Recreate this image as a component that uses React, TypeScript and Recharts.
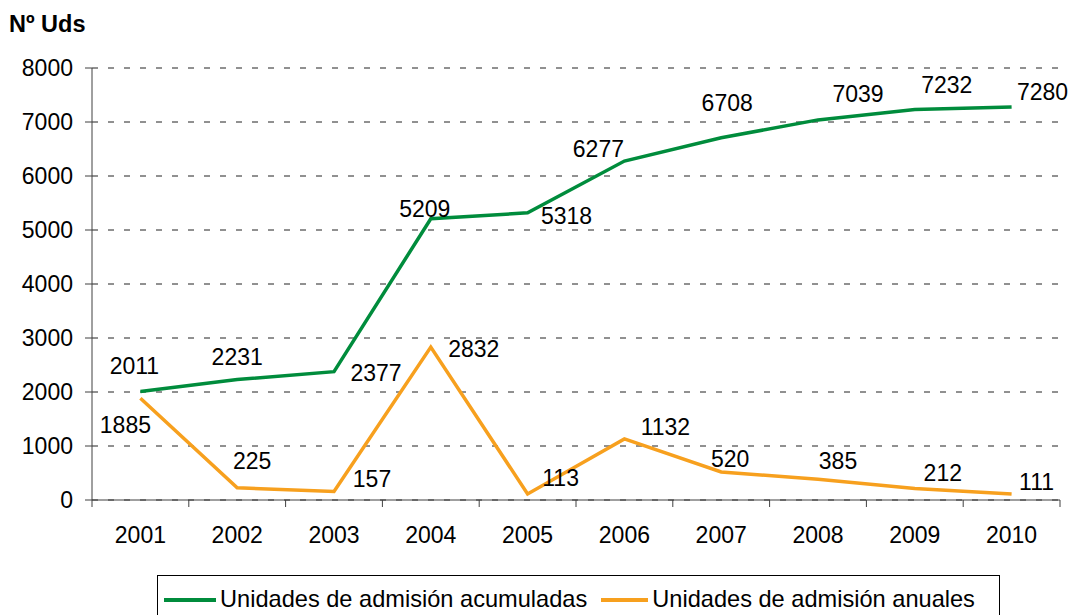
import React from 'react';
import { LineChart, Line, XAxis, YAxis, CartesianGrid } from 'recharts';

const years = ['2001', '2002', '2003', '2004', '2005', '2006', '2007', '2008', '2009', '2010'];
const acumuladas = [2011, 2231, 2377, 5209, 5318, 6277, 6708, 7039, 7232, 7280];
const anuales = [1885, 225, 157, 2832, 113, 1132, 520, 385, 212, 111];
const yTicks = [0, 1000, 2000, 3000, 4000, 5000, 6000, 7000, 8000];
const xBoundaryTicks = [0.5, 1.5, 2.5, 3.5, 4.5, 5.5, 6.5, 7.5, 8.5, 9.5, 10.5];

const seriesNames = ['Unidades de admisión acumuladas', 'Unidades de admisión anuales'];

// label placement offsets (label centre relative to point)
const acumOffsets: [number, number][] = [
  [-6, -25], [0, -23], [42, 1], [-6, -10], [39, 3], [-26, -12], [6, -35], [40, -26], [32, -24], [31, -15],
];
const anualOffsets: [number, number][] = [
  [-15, 27], [15, -27], [38, -13], [43, 2], [33, -16], [41, -12], [9, -13], [20, -18], [28, -16], [25, -12],
];

const data = years.map((y, i) => ({ idx: i + 1, year: y, acum: acumuladas[i], anual: anuales[i] }));

const FONT = '"Liberation Sans", Arial, sans-serif';
const GREEN = '#008C3C';
const ORANGE = '#F7A01E';
const FS = 23;

const CHART_W = 1070;
const CHART_H = 615;
const MARGIN = { top: 68, right: 10, bottom: 75, left: 0 };
const Y_W = 92;
const HALF_BAND = (CHART_W - MARGIN.left - MARGIN.right - Y_W) / years.length / 2;

const makeLabel = (offsets: [number, number][]) => (props: any) => {
  const { x, y, index, value } = props;
  const [dx, dy] = offsets[index] || [0, 0];
  return (
    <text x={x + dx} y={y + dy} textAnchor="middle" dominantBaseline="central" fontSize={FS} fontFamily={FONT} fill="#000">
      {value}
    </text>
  );
};

const YearTick = (props: any) => {
  const { x, y, index } = props;
  if (index >= years.length) return null;
  return (
    <text x={x + HALF_BAND} y={y} textAnchor="middle" dominantBaseline="central" fontSize={FS} fontFamily={FONT} fill="#000">
      {years[index]}
    </text>
  );
};

export default function App() {
  return (
    <div style={{ position: 'absolute', left: 0, top: 0, width: CHART_W, height: CHART_H, overflow: 'hidden', background: '#fff', fontFamily: FONT }}>
      <div style={{ position: 'absolute', left: 9, top: 9, fontSize: 23.5, fontWeight: 'bold', color: '#000', lineHeight: '30px' }}>
        Nº Uds
      </div>
      <LineChart width={CHART_W} height={CHART_H} data={data} margin={MARGIN}>
        <CartesianGrid vertical={false} stroke="#222" strokeDasharray="6 10" />
        <XAxis
          type="number"
          dataKey="idx"
          domain={[0.5, 10.5]}
          ticks={xBoundaryTicks}
          tick={<YearTick />}
          tickSize={7}
          tickMargin={28}
          height={40}
          stroke="#404040"
          interval={0}
          allowDataOverflow
        />
        <YAxis
          domain={[0, 8000]}
          ticks={yTicks}
          width={Y_W}
          tickSize={7}
          tickMargin={12}
          stroke="#404040"
          tick={{ fontSize: FS, fill: '#000', fontFamily: FONT }}
          interval={0}
        />
        <Line
          dataKey="acum"
          name={seriesNames[0]}
          stroke={GREEN}
          strokeWidth={3.5}
          dot={false}
          isAnimationActive={false}
          label={makeLabel(acumOffsets)}
        />
        <Line
          dataKey="anual"
          name={seriesNames[1]}
          stroke={ORANGE}
          strokeWidth={3.5}
          dot={false}
          isAnimationActive={false}
          label={makeLabel(anualOffsets)}
        />
      </LineChart>
      <div
        style={{
          position: 'absolute', left: 157, top: 575, width: 843, height: 50, boxSizing: 'border-box',
          border: '1px solid #000', background: '#fff', display: 'flex', alignItems: 'flex-start',
          paddingTop: 10, paddingLeft: 6, fontSize: 23.6, color: '#000', lineHeight: '26px', whiteSpace: 'nowrap',
        }}
      >
        <span style={{ display: 'inline-block', width: 52, height: 4, background: GREEN, marginTop: 12, marginRight: 4 }} />
        <span>{seriesNames[0]}</span>
        <span style={{ display: 'inline-block', width: 47, height: 4, background: ORANGE, marginTop: 12, marginLeft: 14, marginRight: 4 }} />
        <span>{seriesNames[1]}</span>
      </div>
    </div>
  );
}
